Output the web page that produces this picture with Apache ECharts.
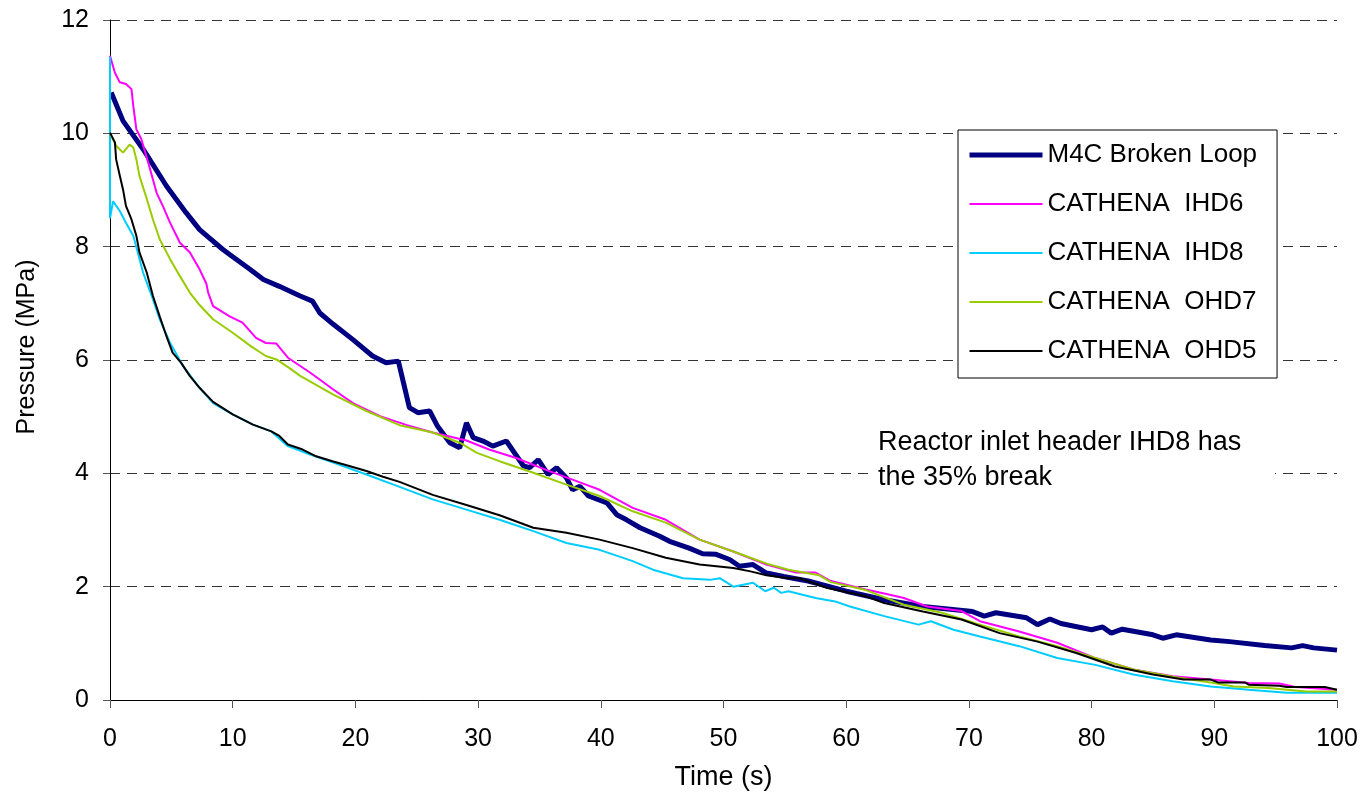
<!DOCTYPE html>
<html>
<head>
<meta charset="utf-8">
<script src="https://cdn.jsdelivr.net/npm/echarts@6/dist/echarts.min.js"></script>
<style>html,body{margin:0;padding:0;background:#fff;}#chart{width:1365px;height:798px;}</style>
</head>
<body>
<div id="chart"></div>
<script>
var seriesNames = ['M4C Broken Loop', 'CATHENA  IHD6', 'CATHENA  IHD8', 'CATHENA  OHD7', 'CATHENA  OHD5'];
var xTicks = [0, 10, 20, 30, 40, 50, 60, 70, 80, 90, 100];
var yTicks = [0, 2, 4, 6, 8, 10, 12];

var m4cBrokenLoop = [[0.1,10.72],[1.06,10.22],[2.7,9.72],[4.6,9.07],[6.2,8.6],[7.3,8.3],[9.2,7.95],[9.75,7.86],[11.4,7.6],[12.5,7.42],[13.8,7.3],[15.5,7.13],[16.5,7.04],[17.1,6.83],[18.2,6.63],[19.8,6.36],[21.4,6.07],[22.5,5.95],[23.5,5.98],[24.4,5.16],[25.1,5.07],[26.05,5.1],[26.7,4.83],[27.7,4.54],[28.5,4.45],[29.05,4.89],[29.6,4.63],[30.4,4.57],[31.2,4.48],[32.3,4.57],[33.7,4.13],[34.2,4.1],[34.9,4.24],[35.7,3.98],[36.4,4.1],[37.2,3.92],[37.7,3.71],[38.3,3.77],[39.0,3.6],[40.5,3.48],[41.3,3.27],[42.1,3.18],[43.2,3.04],[44.8,2.89],[45.6,2.8],[47.2,2.68],[48.3,2.58],[49.4,2.57],[50.5,2.48],[51.3,2.36],[52.4,2.39],[53.5,2.24],[54.9,2.18],[56.9,2.1],[60,1.92],[63.1,1.77],[66.25,1.65],[70.3,1.56],[71.25,1.48],[72.2,1.54],[74.7,1.45],[75.6,1.33],[76.6,1.43],[77.5,1.35],[80,1.24],[80.9,1.29],[81.6,1.18],[82.5,1.25],[85,1.15],[85.8,1.09],[86.9,1.15],[89.7,1.06],[91.25,1.03],[94.1,0.96],[96.3,0.92],[97.2,0.96],[98.1,0.92],[100,0.88]];

var cathenaIHD6 = [[0,11.37],[0.4,11.07],[0.8,10.9],[1.3,10.87],[1.75,10.78],[1.9,10.48],[2.15,10.07],[2.55,9.9],[3.2,9.42],[3.8,8.95],[4.3,8.72],[4.9,8.42],[5.7,8.07],[6.5,7.9],[7.3,7.6],[7.85,7.35],[8.0,7.19],[8.4,6.95],[9.75,6.77],[10.8,6.66],[11.9,6.39],[12.7,6.3],[13.56,6.29],[14.5,6.04],[16.3,5.78],[18.2,5.48],[19.8,5.24],[22.0,5.01],[24.2,4.85],[26.3,4.72],[29.05,4.58],[30.9,4.42],[33.1,4.27],[35.8,4.04],[37.7,3.89],[39.9,3.71],[42.6,3.39],[45.3,3.18],[48.05,2.83],[50.8,2.62],[53.5,2.39],[55.9,2.25],[57.5,2.25],[58.75,2.1],[61.6,1.95],[63.1,1.88],[64.7,1.8],[66.6,1.65],[69.4,1.57],[70.9,1.39],[74.1,1.21],[77.2,1.01],[80.3,0.74],[83.4,0.54],[86.6,0.42],[89.7,0.36],[92.8,0.3],[95.3,0.29],[96.6,0.23],[100,0.18]];

var cathenaIHD8 = [[0,11.35],[0,8.5],[0.25,8.8],[0.4,8.83],[0.8,8.63],[1.3,8.42],[1.9,8.19],[2.2,7.95],[2.7,7.54],[3.4,7.13],[4.05,6.72],[4.9,6.3],[5.5,6.07],[5.95,5.89],[7.3,5.51],[8.4,5.24],[10.0,5.04],[11.65,4.86],[13.15,4.74],[14.5,4.48],[16.3,4.33],[18.2,4.19],[20.9,3.98],[23.6,3.76],[26.3,3.54],[29.05,3.36],[31.75,3.18],[34.5,2.98],[37.2,2.77],[39.9,2.65],[42.6,2.45],[44.25,2.3],[46.7,2.15],[48.9,2.12],[49.7,2.15],[50.8,2.0],[52.4,2.07],[53.4,1.92],[54.1,1.98],[54.7,1.89],[55.3,1.92],[57.5,1.8],[59.1,1.74],[60.3,1.65],[63.1,1.48],[65.9,1.33],[66.9,1.39],[68.75,1.24],[70.9,1.12],[74.1,0.95],[77.2,0.74],[80.3,0.62],[83.4,0.45],[86.6,0.33],[89.7,0.24],[92.8,0.18],[95.9,0.13],[100,0.13]];

var cathenaOHD7 = [[0,10.0],[0.5,9.78],[1.06,9.66],[1.6,9.8],[1.9,9.75],[2.15,9.54],[2.4,9.25],[3.0,8.84],[3.5,8.48],[4.05,8.13],[4.9,7.78],[5.7,7.48],[6.5,7.19],[7.3,6.97],[8.4,6.72],[10.0,6.48],[11.5,6.24],[12.7,6.07],[13.56,6.01],[14.6,5.86],[15.5,5.72],[18.2,5.39],[20.9,5.1],[23.6,4.85],[26.3,4.72],[28.5,4.54],[29.9,4.36],[31.8,4.21],[34.5,4.01],[37.2,3.8],[39.9,3.6],[42.6,3.33],[45.3,3.13],[48.05,2.83],[50.8,2.62],[52.2,2.51],[53.75,2.39],[55.3,2.3],[57.8,2.2],[58.75,2.08],[61.6,1.94],[64.7,1.68],[67.8,1.54],[70.9,1.33],[74.1,1.12],[77.2,0.95],[80.3,0.74],[83.4,0.54],[86.6,0.41],[89.7,0.31],[91.6,0.24],[94.4,0.21],[97.5,0.15],[100,0.15]];

var cathenaOHD5 = [[0,10.01],[0.4,9.84],[0.5,9.54],[0.8,9.25],[1.06,9.01],[1.3,8.72],[1.75,8.48],[2.15,8.19],[2.4,7.9],[3.0,7.54],[3.5,7.13],[4.05,6.77],[4.6,6.42],[5.1,6.13],[5.8,5.95],[6.5,5.72],[7.3,5.51],[8.4,5.26],[10.0,5.04],[11.65,4.86],[13.15,4.74],[13.8,4.66],[14.5,4.51],[15.7,4.42],[16.8,4.3],[18.2,4.21],[19.5,4.13],[20.9,4.04],[22.25,3.94],[23.6,3.85],[26.3,3.62],[29.05,3.44],[31.75,3.26],[34.5,3.04],[37.2,2.95],[39.9,2.83],[42.6,2.68],[45.3,2.51],[48.05,2.39],[50.8,2.33],[52.2,2.27],[53.5,2.2],[55.3,2.15],[56.2,2.15],[58.4,1.98],[61.6,1.83],[63.1,1.71],[66.25,1.56],[69.4,1.42],[72.5,1.18],[75.6,1.03],[78.75,0.83],[81.9,0.59],[85,0.45],[87.5,0.36],[89.7,0.36],[90.3,0.31],[92.5,0.31],[92.8,0.27],[95.3,0.25],[95.9,0.23],[99,0.23],[100,0.18]];

var seriesData = [m4cBrokenLoop, cathenaIHD6, cathenaIHD8, cathenaOHD7, cathenaOHD5];
var seriesColors = ['#000080', '#FF00FF', '#00CCFF', '#99CC00', '#000000'];
var seriesWidths = [5, 2, 2, 2, 2];

var FONT = '"Liberation Sans", Arial, sans-serif';
var chart = echarts.init(document.getElementById('chart'));

var series = seriesNames.map(function (n, i) {
  return {
    name: n,
    type: 'line',
    data: seriesData[i],
    symbol: 'none',
    showSymbol: false,
    animation: false,
    color: seriesColors[i],
    lineStyle: { color: seriesColors[i], width: seriesWidths[i] }
  };
});

var legendData = seriesNames.map(function (n, i) {
  return {
    name: n,
    lineStyle: { color: seriesColors[i], width: seriesWidths[i] },
    itemStyle: { opacity: 0, color: 'rgba(0,0,0,0)', borderWidth: 0 }
  };
});

chart.setOption({
  backgroundColor: '#ffffff',
  animation: false,
  textStyle: { fontFamily: FONT },
  grid: { left: 110, right: 28, top: 20, bottom: 98, containLabel: false },
  xAxis: {
    type: 'value', min: 0, max: 100, interval: 10,
    name: 'Time (s)', nameLocation: 'middle', nameGap: 64,
    nameTextStyle: { fontSize: 27, color: '#000', fontFamily: FONT },
    axisLine: { show: true, onZero: false, lineStyle: { color: '#000', width: 1 } },
    axisTick: { show: true, inside: false, length: 8, lineStyle: { color: '#555' } },
    axisLabel: { fontSize: 25, color: '#000', margin: 27, fontFamily: FONT },
    splitLine: { show: false }
  },
  yAxis: {
    type: 'value', min: 0, max: 12, interval: 2,
    name: 'Pressure (MPa)', nameLocation: 'middle', nameGap: 70, nameRotate: 90,
    nameTextStyle: { fontSize: 25, color: '#000', fontFamily: FONT, padding: [0, 0, 0, 26] },
    axisLine: { show: true, onZero: false, lineStyle: { color: '#000', width: 1 } },
    axisTick: { show: true, inside: false, length: 7, lineStyle: { color: '#555' } },
    axisLabel: { fontSize: 25, color: '#000', margin: 21, fontFamily: FONT },
    splitLine: { show: true, lineStyle: { color: '#333', width: 1, type: [10, 7] } }
  },
  legend: {
    orient: 'vertical',
    left: 958, top: 130,
    padding: [12, 20, 14, 9],
    itemWidth: 73, itemHeight: 14, itemGap: 23,
    backgroundColor: '#fff',
    borderColor: '#000', borderWidth: 1,
    itemStyle: { opacity: 0, borderWidth: 0 },
    textStyle: { fontSize: 26, color: '#000', fontFamily: FONT },
    data: legendData
  },
  graphic: [{
    type: 'rect', z: 10, silent: true,
    shape: { x: 872, y: 424, width: 403, height: 72 },
    style: { fill: '#ffffff' }
  }, {
    type: 'text', left: 878, top: 425, z: 11, silent: true,
    style: {
      text: 'Reactor inlet header IHD8 has\nthe 35% break',
      font: '27px "Liberation Sans", Arial, sans-serif',
      fill: '#000', lineHeight: 35
    }
  }],
  series: series
});
</script>
</body>
</html>
